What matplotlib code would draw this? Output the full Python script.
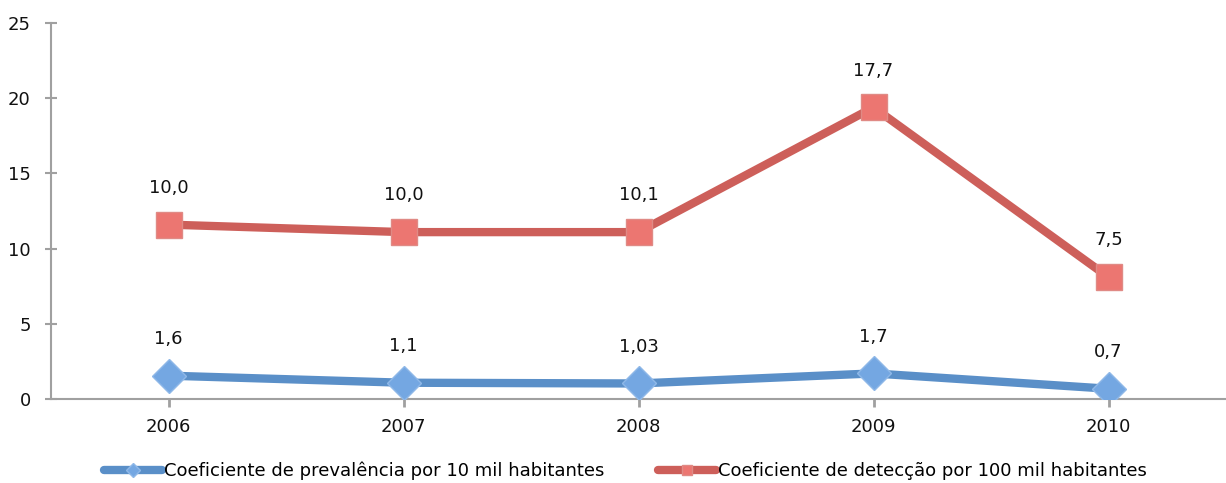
import matplotlib.pyplot as plt

years = ["2006", "2007", "2008", "2009", "2010"]
prevalencia = [1.55, 1.08, 1.03, 1.7, 0.68]
deteccao = [11.6, 11.1, 11.1, 19.4, 8.1]
prevalencia_labels = ["1,6", "1,1", "1,03", "1,7", "0,7"]
deteccao_labels = ["10,0", "10,0", "10,1", "17,7", "7,5"]
yticks = [0, 5, 10, 15, 20, 25]

BLUE_LINE = "#5a8fc8"
BLUE_FILL = "#74a7e2"
RED_LINE = "#cd5f5a"
RED_FILL = "#ec7671"
GREY = "#a0a0a0"
FS = 13

plt.rcParams["font.family"] = ["DejaVu Sans"]

fig = plt.figure(figsize=(12.26, 4.83), dpi=100)
ax = fig.add_axes([0.0416, 0.174, 0.9584, 0.778])

x = list(range(len(years)))

ax.plot(x, prevalencia, color=BLUE_LINE, lw=6, marker="D", ms=17,
        mfc=BLUE_FILL, mec="#8fb8e8", mew=1, solid_capstyle="round",
        label="Coeficiente de prevalência por 10 mil habitantes", zorder=3)
ax.plot(x, deteccao, color=RED_LINE, lw=6, marker="s", ms=18.5,
        mfc=RED_FILL, mec="#e08a85", mew=1, solid_capstyle="round",
        label="Coeficiente de detecção por 100 mil habitantes", zorder=3)

for xi, v, s in zip(x, prevalencia, prevalencia_labels):
    ax.annotate(s, (xi, v), xytext=(0, 26.5), textcoords="offset points",
                ha="center", va="center", fontsize=FS, color="#111111")
for xi, v, s in zip(x, deteccao, deteccao_labels):
    ax.annotate(s, (xi, v), xytext=(0, 26.5), textcoords="offset points",
                ha="center", va="center", fontsize=FS, color="#111111")

ax.set_xlim(-0.5, len(years) - 0.5)
ax.set_ylim(0, 25)
ax.set_yticks(yticks)
ax.set_xticks(x)
ax.set_xticklabels(years)

for side in ["top", "right"]:
    ax.spines[side].set_visible(False)
for side in ["left", "bottom"]:
    ax.spines[side].set_color(GREY)
    ax.spines[side].set_linewidth(1.5)
ax.tick_params(axis="y", direction="inout", length=9, width=1.5, color=GREY,
               labelsize=FS, pad=10, labelcolor="#111111")
ax.tick_params(axis="x", direction="out", length=6, width=2, color=GREY,
               labelsize=FS, pad=8, labelcolor="#111111")

leg = fig.legend(loc="lower center", bbox_to_anchor=(0.51, -0.028), ncol=2,
                 frameon=False, fontsize=FS, handlelength=3.2,
                 handletextpad=0.1, columnspacing=3.0)
for line in leg.get_lines():
    line.set_markersize(7)

fig.savefig("out.png", dpi=100)
